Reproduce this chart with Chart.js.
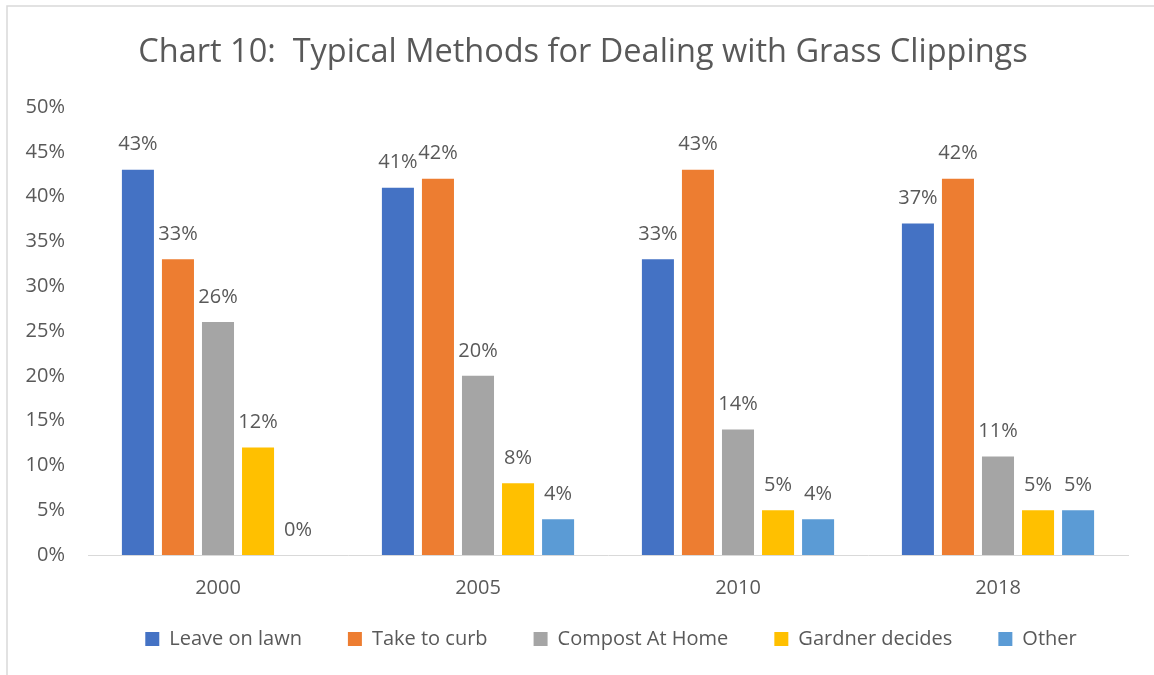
<!DOCTYPE html>
<html lang="en">
<head>
  <meta charset="UTF-8" />
  <title>Chart 10: Typical Methods for Dealing with Grass Clippings</title>
  <script src="https://cdn.jsdelivr.net/npm/chart.js"></script>
  <style>
    html, body { margin: 0; padding: 0; background: #fff; }
    #wrap { position: absolute; left: 0; top: 0; width: 1154px; height: 675px; }
  </style>
</head>
<body>
  <div id="wrap"><canvas id="chart" width="1154" height="675"></canvas></div>

  <script>
    const years = ['2000', '2005', '2010', '2018'];
    const leaveOnLawn = [43, 41, 33, 37];
    const takeToCurb = [33, 42, 43, 42];
    const compostAtHome = [26, 20, 14, 11];
    const gardnerDecides = [12, 8, 5, 5];
    const other = [0, 4, 4, 5];
    const yTicks = [0, 5, 10, 15, 20, 25, 30, 35, 40, 45, 50];

    const textColor = '#595959';
    const fontName = '"Open Sans", "Noto Sans", sans-serif';

    // labels above each bar
    const barLabels = {
      id: 'barLabels',
      afterDatasetsDraw(chart) {
        const ctx = chart.ctx;
        ctx.save();
        ctx.fillStyle = textColor;
        ctx.font = '20px ' + fontName;
        ctx.textAlign = 'center';
        ctx.textBaseline = 'middle';
        chart.data.datasets.forEach((ds, i) => {
          chart.getDatasetMeta(i).data.forEach((bar, j) => {
            ctx.fillText(ds.data[j] + '%', bar.x, bar.y - 25);
          });
        });
        ctx.restore();
      }
    };

    // light frame (top and left edges are all that show), and a few box nudges after layout
    const frame = {
      id: 'frame',
      afterLayout(chart) {
        const x = chart.scales.x;
        x.bottom = x.top + 44;          // let the year labels draw below the shrunk axis box
        chart.legend.left += 43;        // legend centred under the plot area
        chart.legend.right += 43;
        chart.titleBlock.left += 15;
        chart.titleBlock.right += 15;
      },
      beforeDraw(chart) {
        const ctx = chart.ctx;
        ctx.save();
        ctx.strokeStyle = '#d9d9d9';
        ctx.lineWidth = 1.5;
        ctx.beginPath();
        ctx.moveTo(7, 675);
        ctx.lineTo(7, 6);
        ctx.lineTo(1154, 6);
        ctx.stroke();
        ctx.restore();
      }
    };

    const ds = (label, data, color) => ({
      label: label,
      data: data,
      backgroundColor: color,
      barPercentage: 0.8,
      categoryPercentage: 0.77
    });

    new Chart(document.getElementById('chart'), {
      type: 'bar',
      data: {
        labels: years,
        datasets: [
          ds('Leave on lawn', leaveOnLawn, '#4472C4'),
          ds('Take to curb', takeToCurb, '#ED7D31'),
          ds('Compost At Home', compostAtHome, '#A5A5A5'),
          ds('Gardner decides', gardnerDecides, '#FFC000'),
          ds('Other', other, '#5B9BD5')
        ]
      },
      options: {
        responsive: false,
        animation: false,
        layout: { padding: { left: 8, right: 26, top: 8, bottom: 16 } },
        plugins: {
          title: {
            display: true,
            text: 'Chart 10:  Typical Methods for Dealing with Grass Clippings',
            color: textColor,
            font: { family: fontName, size: 32.5, weight: 'normal' },
            padding: { top: 25, bottom: 35 }
          },
          legend: {
            position: 'bottom',
            labels: {
              color: textColor,
              font: { family: fontName, size: 20 },
              boxWidth: 14,
              boxHeight: 14,
              padding: 46
            }
          },
          tooltip: { enabled: false }
        },
        scales: {
          x: {
            grid: { display: false },
            border: { color: '#d9d9d9', width: 1 },
            afterFit(scale) { scale.height = 28; },
            ticks: { color: textColor, font: { family: fontName, size: 20 }, padding: 13 }
          },
          y: {
            min: 0,
            max: 50,
            afterFit(scale) { scale.width = 80; },
            afterBuildTicks(scale) { scale.ticks = yTicks.map(v => ({ value: v })); },
            grid: { display: false },
            border: { display: false },
            ticks: {
              color: textColor,
              font: { family: fontName, size: 20 },
              padding: 15,
              callback: v => v + '%'
            }
          }
        }
      },
      plugins: [barLabels, frame]
    });
  </script>
</body>
</html>
